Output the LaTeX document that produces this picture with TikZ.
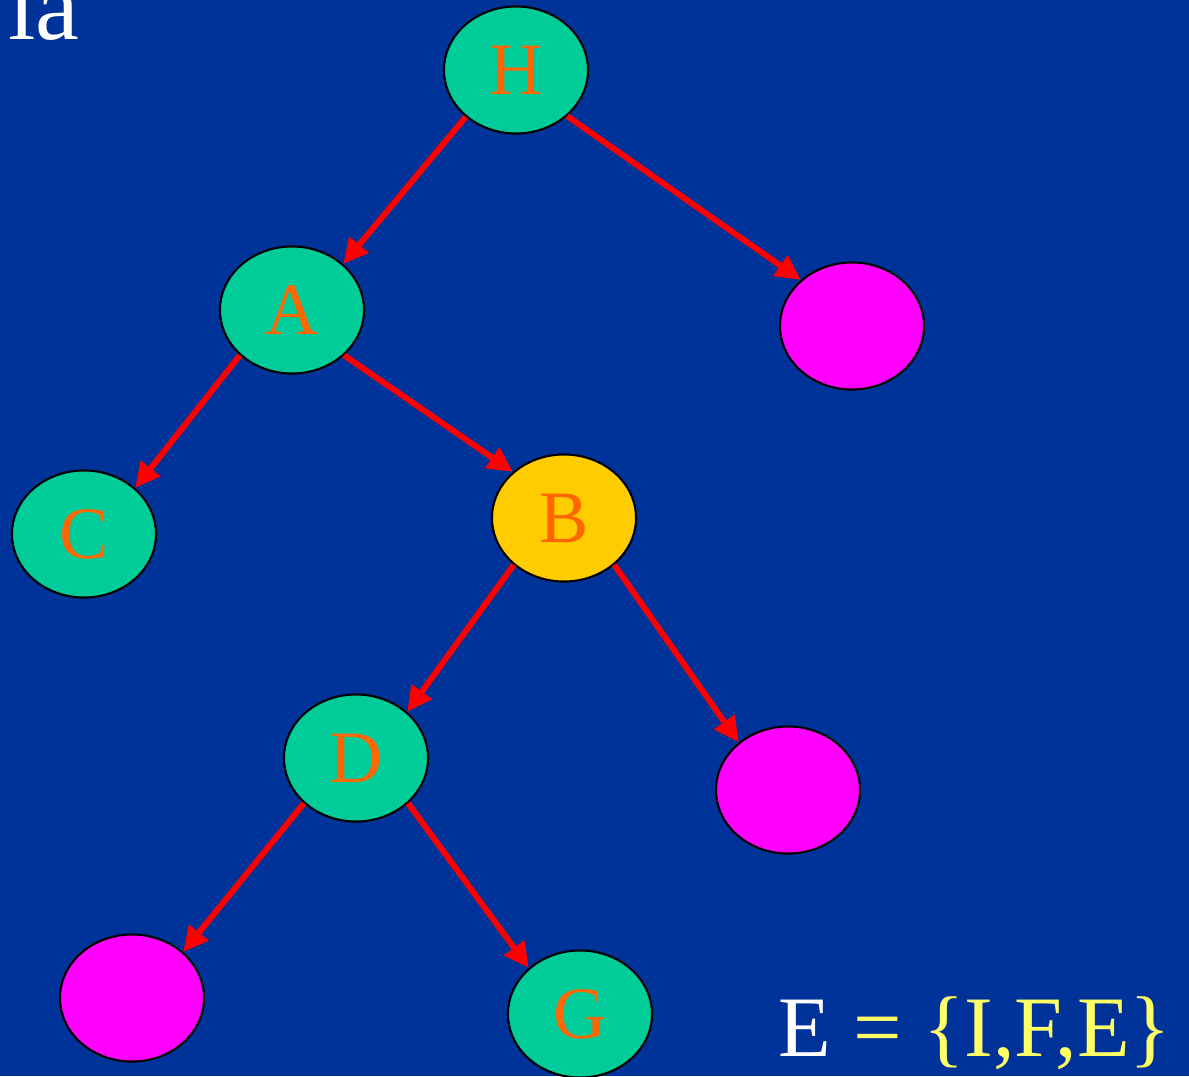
\documentclass[tikz,border=0pt]{standalone}
\usepackage{fontspec}
\setmainfont{Liberation Serif}
\usepackage{xcolor}
\usetikzlibrary{arrows.meta,shapes.geometric}

\definecolor{slideblue}{HTML}{003399}
\definecolor{leafgreen}{HTML}{00CC99}
\definecolor{emptypink}{HTML}{FF00FF}
\definecolor{markyellow}{HTML}{FFCC00}
\definecolor{letterorange}{HTML}{FF6600}
\definecolor{setyellow}{HTML}{FFFF66}

\begin{document}
\begin{tikzpicture}[x=0.01cm,y=-0.01cm,
            vert/.style = {ellipse,draw=black,line width=0.6pt,
                        minimum width=1.44cm,minimum height=1.27cm,inner sep=0pt,
                        text=letterorange,font=\fontsize{21}{25}\selectfont},
            edge/.style = {draw=red,line width=1.7pt,
                        -{Triangle[length=0.25cm,width=0.24cm]}}]
            \clip (0,0) rectangle (1189,1076);
            \fill[slideblue] (0,0) rectangle (1189,1076);
            % Title remainder
            \node[anchor=base east,text=white,inner sep=0pt,
                  font=\fontsize{28}{32}\selectfont] (title) at (80,40) {ia};
            % Tree nodes
            \node[vert,fill=leafgreen] (H) at (516,70) {H};
            \node[vert,fill=leafgreen] (A) at (292,310) {A};
            \node[vert,fill=emptypink] (I) at (852,326) {};
            \node[vert,fill=leafgreen] (C) at (84,534) {C};
            \node[vert,fill=markyellow] (B) at (564,518) {B};
            \node[vert,fill=leafgreen] (D) at (356,758) {D};
            \node[vert,fill=emptypink] (F) at (788,790) {};
            \node[vert,fill=emptypink] (E) at (132,998) {};
            \node[vert,fill=leafgreen] (G) at (580,1014) {G};
            % Edges
            \draw[edge] (H.223) -- (A.42);
            \draw[edge] (H.318) -- (I.138);
            \draw[edge] (A.221) -- (C.42);
            \draw[edge] (A.319) -- (B.138);
            \draw[edge] (B.223) -- (D.42);
            \draw[edge] (B.317) -- (F.136);
            \draw[edge] (D.221) -- (E.42);
            \draw[edge] (D.319) -- (G.138);
            % Set of empty leaves
            \node[anchor=base east,inner sep=0pt,
                  font=\fontsize{24.5}{28}\selectfont] (set) at (1172,1056)
                  {\textcolor{white}{E} \textcolor{setyellow}{= \{I,F,E\}}};
        \end{tikzpicture}
\end{document}
